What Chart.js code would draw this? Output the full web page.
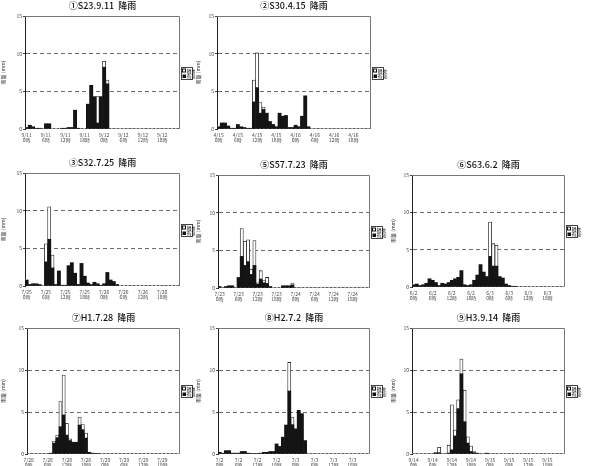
<!DOCTYPE html>
<html lang="ja">
<head>
<meta charset="utf-8">
<title>降雨</title>
<script src="https://cdn.jsdelivr.net/npm/chart.js@4.4.0/dist/chart.umd.min.js"></script>
<style>
  html, body { margin: 0; padding: 0; background: #fff; overflow: hidden; }
  body { width: 589px; height: 466px; position: relative; }
  .box { position: absolute; }
</style>
</head>
<body>
<script>
// --- データ (1時間毎, 48本) ---
const yTicks = [0, 5, 10, 15];
const legendLabels = ["損失", "有効"];

const titles = ["①S23.9.11  降雨", "②S30.4.15  降雨", "③S32.7.25  降雨", "⑤S57.7.23  降雨",
  "⑥S63.6.2  降雨", "⑦H1.7.28  降雨", "⑧H2.7.2  降雨", "⑨H3.9.14  降雨"];

const ticks1 = [["9/11","0時"],["9/11","6時"],["9/11","12時"],["9/11","18時"],["9/12","0時"],["9/12","6時"],["9/12","12時"],["9/12","18時"]];
const ticks2 = [["4/15","0時"],["4/15","6時"],["4/15","12時"],["4/15","18時"],["4/16","0時"],["4/16","6時"],["4/16","12時"],["4/16","18時"]];
const ticks3 = [["7/25","0時"],["7/25","6時"],["7/25","12時"],["7/25","18時"],["7/26","0時"],["7/26","6時"],["7/26","12時"],["7/26","18時"]];
const ticks5 = [["7/23","0時"],["7/23","6時"],["7/23","12時"],["7/23","18時"],["7/24","0時"],["7/24","6時"],["7/24","12時"],["7/24","18時"]];
const ticks6 = [["6/2","0時"],["6/2","6時"],["6/2","12時"],["6/2","18時"],["6/3","0時"],["6/3","6時"],["6/3","12時"],["6/3","18時"]];
const ticks7 = [["7/28","0時"],["7/28","6時"],["7/28","12時"],["7/28","18時"],["7/29","0時"],["7/29","6時"],["7/29","12時"],["7/29","18時"]];
const ticks8 = [["7/2","0時"],["7/2","6時"],["7/2","12時"],["7/2","18時"],["7/3","0時"],["7/3","6時"],["7/3","12時"],["7/3","18時"]];
const ticks9 = [["9/14","0時"],["9/14","6時"],["9/14","12時"],["9/14","18時"],["9/15","0時"],["9/15","6時"],["9/15","12時"],["9/15","18時"]];

// 有効雨量 (黒)
const eff1 = [0.2,0.5,0.3,0.1,0.1,0, 0.7,0.7,0,0,0,0.1, 0.1,0.2,0.2,2.5,0.1,0, 0,3.3,5.8,4.3,0.8,4.3, 8.2,6.0,0,0,0,0, 0,0,0,0,0,0, 0,0,0,0,0,0, 0,0,0,0,0,0];
const eff2 = [0.3,0.8,0.8,0.4,0.1,0.1, 0.6,0.3,0.2,0.1,0.1,3.6, 5.5,2.1,2.6,2.1,1.0,0.6, 0.3,2.1,1.7,1.8,0.2,0.2, 0.5,0.3,1.7,4.4,0.3,0, 0,0,0,0,0,0, 0,0,0,0,0,0, 0,0,0,0,0,0];
const eff3 = [0.8,0.2,0.3,0.3,0.2,0, 3.2,6.2,2.4,0.2,2.0,0.1, 0.1,2.7,3.1,1.7,0.2,3.0, 1.3,0.4,0.2,0.5,0.3,0.1, 0.3,1.8,0.8,0.6,0.2,0, 0,0,0,0,0,0, 0,0,0,0,0,0, 0,0,0,0,0,0];
const eff5 = [0.2,0,0.2,0.3,0.3,0, 1.4,4.2,3.0,3.5,1.8,3.0, 0.5,1.2,0.7,0.6,0.2,0, 0,0,0.3,0.3,0.3,0.4, 0,0,0,0,0,0, 0,0,0,0,0,0, 0,0,0,0,0,0, 0,0,0,0,0,0];
const eff6 = [0.3,0.4,0.2,0.3,0.5,1.1, 0.9,0.6,0.2,0.5,0.4,0.6, 0.9,1.1,1.3,2.2,0.3,0.2, 0.3,0.9,1.6,3.0,2.0,1.4, 4.1,2.8,2.8,1.4,1.2,0.4, 0.2,0.1,0.1,0,0,0, 0,0,0,0,0,0, 0,0,0,0,0,0];
const eff7 = [0,0,0,0,0,0, 0,0.1,1.3,1.95,3.25,4.65, 2.25,1.6,1.4,1.4,3.45,2.9, 1.9,0.2,0.1,0.05,0.05,0, 0,0,0,0,0,0, 0,0,0,0,0,0, 0,0,0,0,0,0, 0,0,0,0,0,0];
const eff8 = [0.2,0.1,0.4,0.4,0.1,0.1, 0.1,0.3,0.3,0.1,0.05,0.05, 0.05,0.1,0.2,0.2,0.3,0.3, 1.2,0.9,2.0,3.45,7.5,3.5, 3.0,5.2,4.8,1.6,0,0, 0,0,0,0,0,0, 0,0,0,0,0,0, 0,0,0,0,0,0];
const eff9 = [0,0,0,0,0,0, 0,0.1,0.15,0,0,0.1, 0.5,2.15,5.4,9.55,3.85,1.3, 0.3,0.15,0.1,0,0,0.1, 0,0,0,0,0,0, 0,0,0,0,0,0, 0,0,0,0,0,0, 0,0,0,0,0,0];

// 損失雨量 (白, 上積み)
const loss1 = [0,0,0,0,0,0, 0,0,0,0,0,0, 0,0,0,0,0,0, 0,0,0,0,3.5,0, 0.8,0.5,0,0,0,0, 0,0,0,0,0,0, 0,0,0,0,0,0, 0,0,0,0,0,0];
const loss2 = [0,0,0,0,0,0, 0,0,0,0,0,2.9, 4.6,1.4,0.3,0,0,0, 0,0,0,0,0,0, 0,0,0,0,0,0, 0,0,0,0,0,0, 0,0,0,0,0,0, 0,0,0,0,0,0];
const loss3 = [0,0,0,0,0,0, 2.4,4.3,1.7,0,0,0, 0,0,0,0,0,0, 0,0,0,0,0,0, 0,0,0,0,0,0, 0,0,0,0,0,0, 0,0,0,0,0,0, 0,0,0,0,0,0];
const loss5 = [0,0,0,0,0,0, 0,3.7,3.2,2.9,0.7,3.3, 0.2,1.1,0.3,0.8,0,0, 0,0,0,0,0,0.2, 0,0,0,0,0,0, 0,0,0,0,0,0, 0,0,0,0,0,0, 0,0,0,0,0,0];
const loss6 = [0,0,0,0,0,0, 0,0,0,0,0,0, 0,0,0,0,0,0, 0,0,0,0,0,0, 4.6,3.0,2.8,0,0,0, 0,0,0,0,0,0, 0,0,0,0,0,0, 0,0,0,0,0,0];
const loss7 = [0,0,0,0,0,0, 0,0,0.25,0.3,3.0,4.75, 1.4,0.2,0,0,0.95,0.6, 0.6,0,0,0,0,0, 0,0,0,0,0,0, 0,0,0,0,0,0, 0,0,0,0,0,0, 0,0,0,0,0,0];
const loss8 = [0,0,0,0,0,0, 0,0,0,0,0,0, 0,0,0,0,0,0, 0,0,0,0,3.4,0.9, 0,0,0,0,0,0, 0,0,0,0,0,0, 0,0,0,0,0,0, 0,0,0,0,0,0];
const loss9 = [0,0,0,0,0,0, 0,0.1,0.65,0,0,0.95, 5.35,0.7,1.05,1.75,3.75,0.75, 0.65,0.15,0,0,0,0, 0,0,0,0,0,0, 0,0,0,0,0,0, 0,0,0,0,0,0, 0,0,0,0,0,0];

// --- 配置 (ページ座標: 枠の左右, 描画領域) ---
const panels = [
  { title: titles[0], ticks: ticks1, eff: eff1, loss: loss1, left: 0,   right: 195, plot: [25, 16, 180, 129] },
  { title: titles[1], ticks: ticks2, eff: eff2, loss: loss2, left: 195, right: 390, plot: [217, 16, 371, 129] },
  { title: titles[2], ticks: ticks3, eff: eff3, loss: loss3, left: 0,   right: 195, plot: [25, 173, 180, 286] },
  { title: titles[3], ticks: ticks5, eff: eff5, loss: loss5, left: 195, right: 390, plot: [218, 175, 370, 288] },
  { title: titles[4], ticks: ticks6, eff: eff6, loss: loss6, left: 390, right: 589, plot: [412, 175, 565, 287] },
  { title: titles[5], ticks: ticks7, eff: eff7, loss: loss7, left: 0,   right: 195, plot: [27, 328, 180, 454] },
  { title: titles[6], ticks: ticks8, eff: eff8, loss: loss8, left: 195, right: 390, plot: [218, 328, 370, 454] },
  { title: titles[7], ticks: ticks9, eff: eff9, loss: loss9, left: 390, right: 589, plot: [412, 328, 565, 454] },
];

Chart.defaults.font.family = "'Noto Sans CJK JP', 'Noto Sans', sans-serif";
Chart.defaults.color = "#333";

// 枠線・凡例
const framePlugin = {
  id: "frame",
  beforeDatasetsDraw(chart) {
    const { ctx, chartArea: a } = chart;
    ctx.save();
    ctx.strokeStyle = "#555";
    ctx.lineWidth = 1;
    ctx.setLineDash([2, 2]);
    ctx.beginPath();
    ctx.moveTo(a.left, a.bottom - 0.5);
    ctx.lineTo(a.right, a.bottom - 0.5);
    ctx.stroke();
    ctx.restore();
  },
  afterDraw(chart) {
    const { ctx, chartArea: a } = chart;
    ctx.save();
    ctx.strokeStyle = "#777";
    ctx.lineWidth = 1;
    ctx.beginPath();
    ctx.moveTo(a.left, a.top + 0.5);
    ctx.lineTo(a.right - 0.5, a.top + 0.5);
    ctx.lineTo(a.right - 0.5, a.bottom);
    ctx.stroke();

    // 凡例 (□損失 ■有効)
    const lx = Math.round(a.right + 1) + 0.5;
    const ly = Math.round(a.top + (a.bottom - a.top) * 0.45) + 0.5;
    ctx.strokeStyle = "#444";
    ctx.strokeRect(lx, ly, 11, 12);
    ctx.font = "5px 'Noto Sans CJK JP'";
    ctx.textBaseline = "middle";
    ctx.fillStyle = "#fff";
    ctx.strokeStyle = "#111";
    ctx.fillRect(lx + 1, ly + 1.5, 3, 3);
    ctx.strokeRect(lx + 1, ly + 1.5, 3, 3);
    ctx.fillStyle = "#111";
    ctx.fillRect(lx + 1, ly + 7, 3.5, 3.5);
    ctx.fillText(legendLabels[0], lx + 5, ly + 3.2);
    ctx.fillText(legendLabels[1], lx + 5, ly + 8.8);
    ctx.restore();
  },
};

panels.forEach((p) => {
  const [pl, pt, pr, pb] = p.plot;
  const top = pt - 16;
  const bottom = pb + 16;

  const div = document.createElement("div");
  div.className = "box";
  div.style.left = p.left + "px";
  div.style.top = top + "px";
  const canvas = document.createElement("canvas");
  canvas.width = p.right - p.left;
  canvas.height = bottom - top;
  canvas.style.width = canvas.width + "px";
  canvas.style.height = canvas.height + "px";
  div.appendChild(canvas);
  document.body.appendChild(div);

  const labels = p.eff.map((_, i) => (i % 6 === 0 ? p.ticks[i / 6] : ""));

  new Chart(canvas.getContext("2d"), {
    type: "bar",
    data: {
      labels: labels,
      datasets: [
        {
          label: legendLabels[1],
          data: p.eff,
          backgroundColor: "#141414",
          borderWidth: 0,
          barPercentage: 1,
          categoryPercentage: 1,
        },
        {
          label: legendLabels[0],
          data: p.loss,
          backgroundColor: "#ffffff",
          borderColor: "#222",
          borderWidth: (c) => (c.raw > 0 ? 0.8 : 0),
          barPercentage: 1,
          categoryPercentage: 1,
        },
      ],
    },
    options: {
      responsive: false,
      animation: false,
      layout: { padding: { left: 0, top: 0, bottom: 0, right: p.right - pr } },
      scales: {
        x: {
          stacked: true,
          grid: { display: false, drawTicks: false },
          border: { display: false },
          ticks: {
            autoSkip: false, maxRotation: 0, minRotation: 0,
            font: { size: 5, lineHeight: 1.05 }, color: "#444", padding: 3,
          },
          afterFit: (s) => { s.height = bottom - pb; },
        },
        y: {
          stacked: true,
          min: yTicks[0],
          max: yTicks[yTicks.length - 1],
          afterBuildTicks: (s) => { s.ticks = yTicks.map((v) => ({ value: v })); },
          ticks: { font: { size: 5 }, color: "#444", padding: 1 },
          grid: {
            color: (c) => (c.tick && (c.tick.value === 5 || c.tick.value === 10) ? "#6a6a6a" : "rgba(0,0,0,0)"),
            lineWidth: 1,
            tickLength: 2,
            tickColor: "#444",
          },
          border: { color: "#222", width: 1, dash: [4, 3] },
          title: { display: true, text: "雨量 (mm)", font: { size: 5 }, padding: 0, color: "#333" },
          afterFit: (s) => { s.width = pl - p.left; },
        },
      },
      plugins: {
        legend: { display: false },
        tooltip: { enabled: false },
        title: {
          display: true,
          fullSize: false,
          text: p.title,
          font: { size: 9, weight: "500", lineHeight: 12 / 9 },
          color: "#111",
          padding: { top: 0, bottom: 4 },
        },
      },
    },
    plugins: [framePlugin],
  });
});
</script>
</body>
</html>
